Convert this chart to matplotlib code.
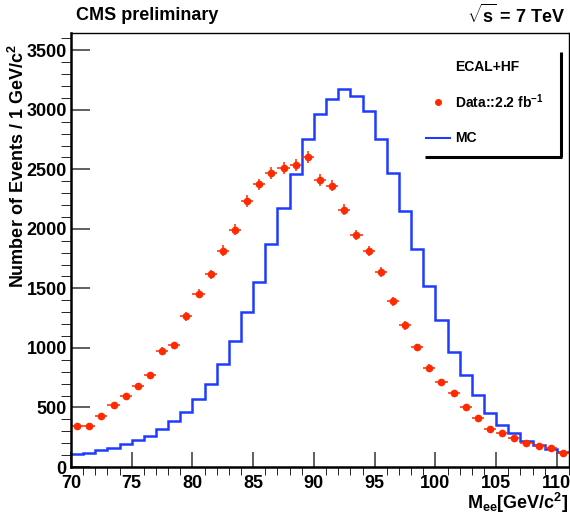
import numpy as np
import matplotlib
matplotlib.use('Agg')
import matplotlib.pyplot as plt
from matplotlib.lines import Line2D
from matplotlib.ticker import MultipleLocator

plt.rcParams['font.family'] = ['Liberation Sans', 'DejaVu Sans']
plt.rcParams['font.weight'] = 'bold'
plt.rcParams['mathtext.fontset'] = 'custom'
plt.rcParams['mathtext.rm'] = 'Liberation Sans:bold'
plt.rcParams['mathtext.it'] = 'Liberation Sans:bold'
plt.rcParams['mathtext.bf'] = 'Liberation Sans:bold'

# 1 GeV bins from 70 to 111 GeV
edges = np.arange(70, 112, 1)
centres = edges[:-1] + 0.5

# data (ECAL+HF, 2.2 fb-1), events per bin
data = [346, 346, 430, 523, 598, 680, 769, 973, 1021, 1264,
        1454, 1617, 1818, 1994, 2234, 2374, 2469, 2509, 2536, 2601,
        2408, 2363, 2162, 1949, 1815, 1636, 1390, 1189, 1004, 833,
        711, 618, 501, 408, 322, 285, 243, 204, 174, 159, 115]

# MC expectation per bin
mc = [109, 120, 143, 162, 190, 224, 258, 319, 386, 459,
      568, 694, 864, 1057, 1303, 1555, 1874, 2176, 2464, 2758,
      2968, 3093, 3171, 3113, 2990, 2758, 2472, 2150, 1829, 1521,
      1231, 965, 769, 601, 456, 352, 283, 216, 187, 148, 123]

red = '#ff2a00'
blue = '#1e3cff'

fig = plt.figure(figsize=(5.7, 5.21), dpi=100)
ax = fig.add_axes([71 / 570, 1 - 467 / 521, 498 / 570, 434 / 521])

ax.stairs(mc, edges, color=blue, lw=1.8, baseline=None)
ax.errorbar(centres, data, xerr=0.5, yerr=np.sqrt(data), fmt='o',
            color=red, ms=4.5, mec=red, elinewidth=1.1, capsize=0)

ax.set_xlim(70, 111)
ax.set_ylim(0, 3645)

ax.xaxis.set_major_locator(MultipleLocator(5))
ax.xaxis.set_minor_locator(MultipleLocator(1))
ax.yaxis.set_major_locator(MultipleLocator(500))
ax.yaxis.set_minor_locator(MultipleLocator(100))
ax.tick_params(direction='in', top=False, right=False, labelsize=13,
               color='#444444', width=1.2)
ax.tick_params(axis='x', which='major', length=11, pad=6)
ax.tick_params(axis='x', which='minor', length=6)
ax.tick_params(axis='y', which='major', length=14, pad=3)
ax.tick_params(axis='y', which='minor', length=7)
for s in ['left', 'bottom']:
    ax.spines[s].set_linewidth(1.8)
for s in ['top', 'right']:
    ax.spines[s].set_linewidth(1.0)

# axis titles (ROOT style, at the end of the axis)
fig.text(568 / 570, 1 - 503 / 521, r'M$_{ee}$[GeV/c$^{2}$]', ha='right',
         va='center', fontsize=13)
fig.text(18 / 570, 1 - 44 / 521, r'Number of Events / 1 GeV/c$^{2}$',
         rotation=90, ha='center', va='top', fontsize=13)

fig.text(76 / 570, 1 - 15 / 521, 'CMS preliminary', ha='left', va='center',
         fontsize=13)
fig.text(565 / 570, 1 - 15 / 521, r'$\sqrt{s}$ = 7 TeV', ha='right',
         va='center', fontsize=13)

# legend, drawn the ROOT way with a shadow
fig.text(455 / 570, 1 - 67 / 521, 'ECAL+HF', ha='left', va='center',
         fontsize=10)
fig.text(455 / 570, 1 - 102 / 521, r'Data::2.2 fb$^{-1}$', ha='left',
         va='center', fontsize=10)
fig.text(455 / 570, 1 - 138 / 521, 'MC', ha='left', va='center', fontsize=10)
fig.add_artist(Line2D([438 / 570], [1 - 102 / 521], marker='o', ms=4,
                      color=red, ls='none'))
fig.add_artist(Line2D([426 / 570, 450 / 570], [1 - 138 / 521, 1 - 138 / 521],
                      color=blue, lw=1.5))
fig.add_artist(Line2D([561 / 570, 561 / 570], [1 - 52 / 521, 1 - 157 / 521],
                      color='black', lw=2.2, solid_capstyle='butt'))
fig.add_artist(Line2D([425 / 570, 562 / 570], [1 - 157 / 521, 1 - 157 / 521],
                      color='black', lw=2.2, solid_capstyle='butt'))

fig.savefig('out.png', dpi=100)
